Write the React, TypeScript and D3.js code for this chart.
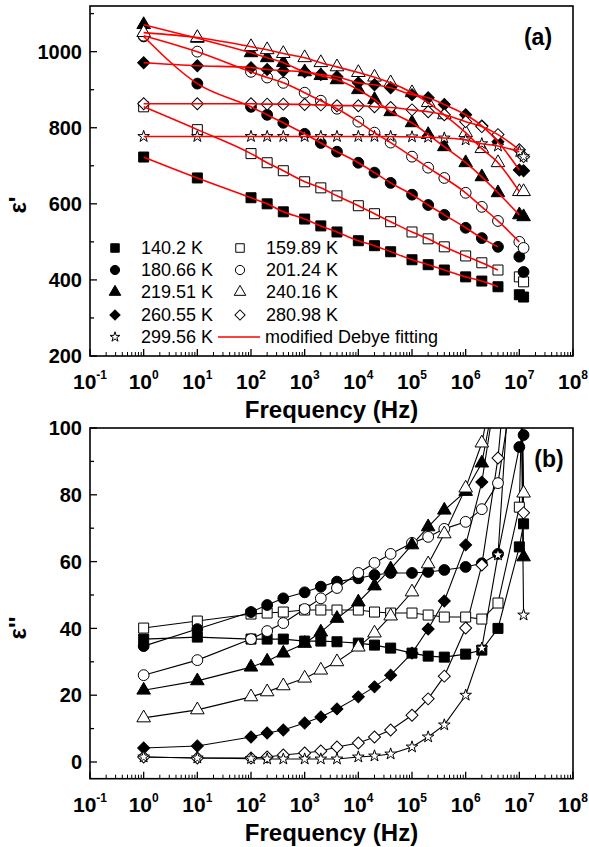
import React from "react";
import * as d3 from "d3";

// ---------- data ----------
const freqs = [1, 10, 100, 200, 400, 1e3, 2e3, 4e3, 1e4, 2e4, 4e4, 1e5, 2e5, 4e5, 1e6, 2e6, 4e6, 1e7, 1.2e7];

const temps = ["140.2 K", "159.89 K", "180.66 K", "201.24 K", "219.51 K", "240.16 K", "260.55 K", "280.98 K", "299.56 K"];
const shapes = ["square", "square", "circle", "circle", "triangle", "triangle", "diamond", "diamond", "star"];
const filled = [true, false, true, false, true, false, true, false, false];

// real part (epsilon')
const re140 = [723, 668, 616, 600, 579, 560, 542, 526, 503, 490, 474, 453, 440, 426, 408, 397, 382, 361, 355];
const re159 = [855, 795, 732, 708, 687, 658, 642, 621, 595, 574, 553, 526, 508, 487, 463, 445, 426, 408, 395];
const re180 = [1040, 916, 855, 834, 813, 784, 760, 737, 708, 682, 655, 624, 597, 571, 537, 510, 487, 461, 421];
const re201 = [1042, 1000, 947, 932, 918, 892, 871, 850, 816, 787, 761, 724, 695, 668, 629, 592, 555, 500, 484];
const re219 = [1071, 1035, 997, 984, 971, 947, 937, 926, 900, 874, 842, 813, 782, 750, 708, 671, 629, 571, 566];
const re240 = [1050, 1037, 1013, 1005, 995, 984, 971, 960, 945, 933, 918, 892, 866, 834, 787, 745, 708, 632, 632];
const re260 = [971, 963, 958, 953, 950, 947, 940, 934, 918, 913, 905, 887, 879, 861, 834, 805, 763, 689, 687];
const re280 = [863, 863, 863, 862, 862, 861, 860, 858, 858, 855, 853, 847, 842, 834, 816, 803, 782, 742, 724];
const re299 = [777, 777, 777, 777, 777, 777, 777, 777, 777, 777, 777, 776, 775, 773, 768, 758, 752, 737, 724];
// last point index covered by the modified Debye fit
const fitEnd = [16, 16, 16, 17, 17, 17, 17, 17, 17];

// imaginary part (epsilon'')
const im140 = [36.8, 37.4, 36.8, 36.8, 36.8, 36.2, 36.2, 36.0, 35.6, 35.0, 34.1, 32.6, 31.7, 31.4, 32.3, 33.5, 40.0, 64.4, 71.3];
const im159 = [40.1, 42.2, 44.3, 44.6, 44.9, 45.5, 45.5, 45.5, 45.5, 44.9, 44.6, 44.6, 44.0, 43.4, 43.4, 42.8, 47.6, 76.3, 130];
const im180 = [34.7, 39.8, 44.9, 47.0, 49.0, 50.8, 52.5, 54.0, 55.0, 56.0, 56.6, 56.6, 56.9, 57.5, 58.4, 59.5, 62.3, 94.3, 97.9];
const im201 = [26.0, 30.5, 36.8, 39.2, 41.6, 45.8, 49.0, 52.1, 56.6, 59.6, 62.3, 65.6, 67.4, 69.8, 71.9, 75.7, 83.5, 125, 150];
const im219 = [21.5, 24.3, 28.4, 30.2, 32.6, 35.5, 38.9, 43.0, 47.9, 52.7, 57.8, 65.0, 70.4, 75.4, 81.0, 89.5, 115, 160, 61.4];
const im240 = [13.2, 15.6, 19.5, 21.0, 22.8, 25.1, 27.5, 30.0, 34.4, 38.6, 43.7, 50.9, 59.3, 68.3, 82.0, 95.5, 120, 160, 80.5];
const im260 = [4.2, 4.8, 7.5, 8.7, 9.6, 11.7, 13.5, 15.9, 19.5, 22.5, 26.0, 32.6, 39.8, 48.2, 65.0, 83.8, 115, 160, 140];
const im280 = [1.5, 1.2, 1.2, 1.5, 2.1, 2.7, 3.3, 4.5, 5.7, 7.5, 9.6, 14.0, 18.9, 25.7, 40.1, 59.0, 91.0, 160, 74.6];
const im299 = [1.5, 1.2, 1.0, 0.9, 0.9, 0.9, 0.9, 0.9, 1.5, 1.8, 2.4, 4.5, 7.5, 11.1, 20.0, 34.1, 62.0, 160, 44.0];

const reSeries = [re140, re159, re180, re201, re219, re240, re260, re280, re299];
const imSeries = [im140, im159, im180, im201, im219, im240, im260, im280, im299];

const xTickExps = [-1, 0, 1, 2, 3, 4, 5, 6, 7, 8];
const yTicksA = [200, 400, 600, 800, 1000];
const yMinorA = [300, 500, 700, 900, 1100];
const yTicksB = [0, 20, 40, 60, 80, 100];
const yMinorB = [10, 30, 50, 70, 90];

// ---------- layout ----------
const W = 589;
const H = 847;
const X0 = 90;
const X1 = 573;
const FONT = "'Liberation Sans', Arial, Helvetica, sans-serif";

const xScale = d3.scaleLog().domain([0.1, 1e8]).range([X0, X1]);
const yA = d3.scaleLinear().domain([200, 1120]).range([356, 6]);
const yB = d3.scaleLinear().domain([-5, 100]).range([778.7, 428]);

const symMap: Record<string, any> = {
  square: d3.symbolSquare,
  circle: d3.symbolCircle,
  triangle: d3.symbolTriangle,
  diamond: d3.symbolSquare,
  star: d3.symbolStar,
};
const symSize: Record<string, number> = { square: 100, circle: 92, triangle: 80, diamond: 72, star: 42 };

function Marker({ shape, isFilled, x, y, scale = 1 }: { shape: string; isFilled: boolean; x: number; y: number; scale?: number }) {
  const d = d3.symbol().type(symMap[shape]).size(symSize[shape] * scale * scale)() as string;
  const rot = shape === "diamond" ? " rotate(45)" : "";
  return (
    <path
      d={d}
      transform={`translate(${x},${y})${rot}`}
      fill={isFilled ? "#000" : "#fff"}
      stroke="#000"
      strokeWidth={1}
    />
  );
}

const minorX: number[] = [];
for (let k = -1; k <= 7; k++) for (let m = 2; m <= 9; m++) minorX.push(m * Math.pow(10, k));

function Axes({ y, top, bottom, ticks, minor }: { y: any; top: number; bottom: number; ticks: number[]; minor: number[] }) {
  return (
    <g>
      <rect x={X0} y={top} width={X1 - X0} height={bottom - top} fill="none" stroke="#000" strokeWidth={1.6} />
      {xTickExps.map((e) => (
        <line key={"mx" + e} x1={xScale(Math.pow(10, e))} x2={xScale(Math.pow(10, e))} y1={bottom} y2={bottom - 7} stroke="#000" strokeWidth={1.3} />
      ))}
      {minorX.map((v, i) => (
        <line key={"nx" + i} x1={xScale(v)} x2={xScale(v)} y1={bottom} y2={bottom - 4} stroke="#000" strokeWidth={1} />
      ))}
      {ticks.map((t) => (
        <line key={"my" + t} x1={X0} x2={X0 + 7} y1={y(t)} y2={y(t)} stroke="#000" strokeWidth={1.3} />
      ))}
      {minor.map((t) => (
        <line key={"ny" + t} x1={X0} x2={X0 + 4} y1={y(t)} y2={y(t)} stroke="#000" strokeWidth={1.3} />
      ))}
      {ticks.map((t) => (
        <text key={"ly" + t} x={X0 - 8} y={y(t)} dy="0.36em" textAnchor="end" fontFamily={FONT} fontWeight="bold" fontSize={20}>
          {t}
        </text>
      ))}
      {xTickExps.map((e) => (
        <text key={"lx" + e} x={xScale(Math.pow(10, e))} y={bottom + 33} textAnchor="middle" fontFamily={FONT} fontWeight="bold" fontSize={21}>
          10
          <tspan dy={-10} fontSize={12}>{e}</tspan>
        </text>
      ))}
      <text x={(X0 + X1) / 2} y={bottom + 62} textAnchor="middle" fontFamily={FONT} fontWeight="bold" fontSize={24}>
        Frequency (Hz)
      </text>
    </g>
  );
}

export default function App() {
  const topA = 6, botA = 356, topB = 428, botB = 778.7;

  const lineA = d3.line<number>().x((_, i) => xScale(freqs[i])).y((v) => yA(v)).curve(d3.curveMonotoneX);
  const lineB = d3.line<number>().x((_, i) => xScale(freqs[i])).y((v) => yB(v));

  const legendRows = [248, 270, 292, 315, 337];
  const legendCols = [115, 240];

  return (
    <svg width={W} height={H} style={{ position: "absolute", left: 0, top: 0, display: "block", background: "#fff" }}>
      <defs>
        <clipPath id="clipA">
          <rect x={X0} y={topA} width={X1 - X0} height={botA - topA} />
        </clipPath>
        <clipPath id="clipB">
          <rect x={X0} y={topB} width={X1 - X0} height={botB - topB} />
        </clipPath>
      </defs>
      <rect x={0} y={0} width={W} height={H} fill="#fff" />

      {/* ---------- panel (a) ---------- */}
      <g clipPath="url(#clipA)">
        {reSeries.map((s, si) =>
          s.map((v, i) => (
            <Marker key={`a${si}-${i}`} shape={shapes[si]} isFilled={filled[si]} x={xScale(freqs[i])} y={yA(v)} />
          ))
        )}
        {reSeries.map((s, si) => (
          <path key={"fit" + si} d={lineA(s.slice(0, fitEnd[si] + 1)) as string} fill="none" stroke="#ff0000" strokeWidth={1.6} />
        ))}
      </g>
      <Axes y={yA} top={topA} bottom={botA} ticks={yTicksA} minor={yMinorA} />
      <text x={538} y={45} textAnchor="middle" fontFamily={FONT} fontWeight="bold" fontSize={23}>(a)</text>
      <text transform={`translate(26,205) rotate(-90)`} textAnchor="middle" fontFamily={FONT} fontWeight="bold" fontSize={24}>
        ε'
      </text>

      {/* legend */}
      {temps.map((t, i) => {
        const row = legendRows[Math.floor(i / 2)];
        const col = legendCols[i % 2];
        return (
          <g key={"lg" + i}>
            <Marker shape={shapes[i]} isFilled={filled[i]} x={col} y={row} scale={0.85} />
            <text x={col + 26} y={row + 6} fontFamily={FONT} fontSize={18}>{t}</text>
          </g>
        );
      })}
      <line x1={218} x2={260} y1={legendRows[4]} y2={legendRows[4]} stroke="#ff0000" strokeWidth={1.6} />
      <text x={265} y={legendRows[4] + 6} fontFamily={FONT} fontSize={18}>modified Debye fitting</text>

      {/* ---------- panel (b) ---------- */}
      <g clipPath="url(#clipB)">
        {imSeries.map((s, si) => (
          <path key={"lb" + si} d={lineB(s) as string} fill="none" stroke="#000" strokeWidth={1.1} />
        ))}
        {imSeries.map((s, si) =>
          s.map((v, i) => (
            <Marker key={`b${si}-${i}`} shape={shapes[si]} isFilled={filled[si]} x={xScale(freqs[i])} y={yB(v)} />
          ))
        )}
      </g>
      <Axes y={yB} top={topB} bottom={botB} ticks={yTicksB} minor={yMinorB} />
      <text x={549} y={467} textAnchor="middle" fontFamily={FONT} fontWeight="bold" fontSize={23}>(b)</text>
      <text transform={`translate(26,628) rotate(-90)`} textAnchor="middle" fontFamily={FONT} fontWeight="bold" fontSize={24}>
        ε''
      </text>
    </svg>
  );
}
